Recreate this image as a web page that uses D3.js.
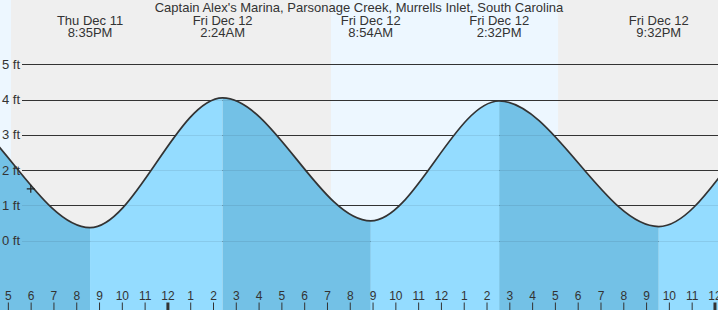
<!DOCTYPE html>
<html>
<head>
<meta charset="utf-8">
<script src="https://cdn.jsdelivr.net/npm/d3@7"></script>
<style>
  body { margin: 0; background: #fff; }
  svg { display: block; font-family: "Liberation Sans", Arial, sans-serif; }
</style>
</head>
<body>
<svg></svg>
<script>
const width = 718;
const height = 310;

const title = "Captain Alex's Marina, Parsonage Creek, Murrells Inlet, South Carolina";

// tide extremes (the outer ones sit off screen so the curve enters/leaves smoothly)
const tideTimes = [
  "2025-12-11 07:45", "2025-12-11 13:53", "2025-12-11 20:35", "2025-12-12 02:24",
  "2025-12-12 08:54", "2025-12-12 14:32", "2025-12-12 21:32", "2025-12-13 03:47",
  "2025-12-13 10:00"
];
const tideHeights = [0.45, 3.95, 0.37, 4.05, 0.56, 3.96, 0.40, 4.0, 0.5];

// sunset / sunrise
const nightStarts = ["2025-12-11 17:07", "2025-12-12 17:07"];
const nightEnds = ["2025-12-12 07:09", "2025-12-13 01:00"];

// current position marker
const nowTime = "2025-12-11 17:59";
const nowHeight = 1.47;

const yTicks = [0, 1, 2, 3, 4, 5];
const viewStart = "2025-12-11 16:38";
const viewEnd = "2025-12-13 00:08";

const parse = d3.timeParse("%Y-%m-%d %H:%M");
const tides = tideTimes.map((t, i) => ({ date: parse(t), h: tideHeights[i] }));

const svg = d3.select("svg").attr("width", width).attr("height", height);

const x = d3.scaleTime()
  .domain([parse(viewStart), parse(viewEnd)])
  .range([0, width]);

const y = d3.scaleLinear()
  .domain([0, 5])
  .range([240.7, 64.3]);

// sky: day background then night bands
svg.append("rect")
  .attr("width", width)
  .attr("height", height)
  .attr("fill", "#edf7ff");

svg.append("g")
  .selectAll("rect")
  .data(nightStarts)
  .join("rect")
  .attr("x", (d) => x(parse(d)))
  .attr("y", 0)
  .attr("width", (d, i) => x(parse(nightEnds[i])) - x(parse(d)))
  .attr("height", height)
  .attr("fill", "#efefef");

// grid lines (dark, behind the water)
svg.append("g")
  .selectAll("line")
  .data(yTicks)
  .join("line")
  .attr("x1", 22)
  .attr("x2", width)
  .attr("y1", (d) => Math.round(y(d)) + 0.5)
  .attr("y2", (d) => Math.round(y(d)) + 0.5)
  .attr("stroke", "#333")
  .attr("stroke-width", 1);

// water
const area = d3.area()
  .curve(d3.curveMonotoneX)
  .x((d) => x(d.date))
  .y0(height)
  .y1((d) => y(d.h));

const line = d3.line()
  .curve(d3.curveMonotoneX)
  .x((d) => x(d.date))
  .y((d) => y(d.h));

svg.append("clipPath")
  .attr("id", "water")
  .append("path")
  .attr("d", area(tides));

// rising = light, falling = dark
const segments = d3.pairs(tides);
svg.append("g")
  .attr("clip-path", "url(#water)")
  .selectAll("rect")
  .data(segments)
  .join("rect")
  .attr("x", (d) => x(d[0].date))
  .attr("y", 0)
  .attr("width", (d) => x(d[1].date) - x(d[0].date))
  .attr("height", height)
  .attr("fill", (d) => (d[1].h < d[0].h ? "#73c1e6" : "#94dcff"));

// faint grid lines through the water
svg.append("g")
  .attr("clip-path", "url(#water)")
  .selectAll("line")
  .data(yTicks)
  .join("line")
  .attr("x1", 22)
  .attr("x2", width)
  .attr("y1", (d) => Math.round(y(d)) + 0.5)
  .attr("y2", (d) => Math.round(y(d)) + 0.5)
  .attr("stroke", "#000")
  .attr("stroke-opacity", 0.08);

// tide curve
svg.append("path")
  .attr("d", line(tides))
  .attr("fill", "none")
  .attr("stroke", "#333")
  .attr("stroke-width", 1.7);

// y labels
svg.append("g")
  .selectAll("text")
  .data(yTicks)
  .join("text")
  .attr("x", 2)
  .attr("y", (d) => y(d))
  .attr("dy", "0.35em")
  .attr("fill", "#333")
  .style("font-size", "13px")
  .text((d) => d + " ft");

// current marker
const nx = x(parse(nowTime));
const ny = y(nowHeight);
svg.append("path")
  .attr("d", `M${nx - 4},${ny}H${nx + 4}M${nx},${ny - 4}V${ny + 4}`)
  .attr("stroke", "#222")
  .attr("stroke-width", 1.2);

// hour axis
const hours = d3.timeHour.range(d3.timeHour.ceil(x.domain()[0]), x.domain()[1]);
const hourAxis = svg.append("g");
hourAxis.selectAll("line")
  .data(hours)
  .join("line")
  .attr("x1", (d) => x(d))
  .attr("x2", (d) => x(d))
  .attr("y1", 302.5)
  .attr("y2", height)
  .attr("stroke", "#333")
  .attr("stroke-width", (d) => (d.getHours() === 0 ? 3 : 1));
hourAxis.selectAll("text")
  .data(hours)
  .join("text")
  .attr("x", (d) => x(d))
  .attr("y", 300)
  .attr("text-anchor", "middle")
  .attr("fill", "#333")
  .style("font-size", "12px")
  .text(d3.timeFormat("%-I"));

// event labels for the extremes in view
const inView = tides.filter((d) => d.date >= x.domain()[0] && d.date <= x.domain()[1]);
const fmtDay = d3.timeFormat("%a %b %d");
const fmtTime = d3.timeFormat("%-I:%M%p");
const labels = svg.append("g")
  .selectAll("text")
  .data(inView)
  .join("text")
  .attr("text-anchor", "middle")
  .attr("fill", "#333")
  .style("font-size", "13px");
labels.append("tspan")
  .attr("x", (d) => x(d.date))
  .attr("y", 24.5)
  .text((d) => fmtDay(d.date));
labels.append("tspan")
  .attr("x", (d) => x(d.date))
  .attr("y", 36.5)
  .text((d) => fmtTime(d.date));

// title
svg.append("text")
  .attr("x", width / 2)
  .attr("y", 12.3)
  .attr("text-anchor", "middle")
  .attr("fill", "#333")
  .style("font-size", "13px")
  .text(title);
</script>
</body>
</html>
